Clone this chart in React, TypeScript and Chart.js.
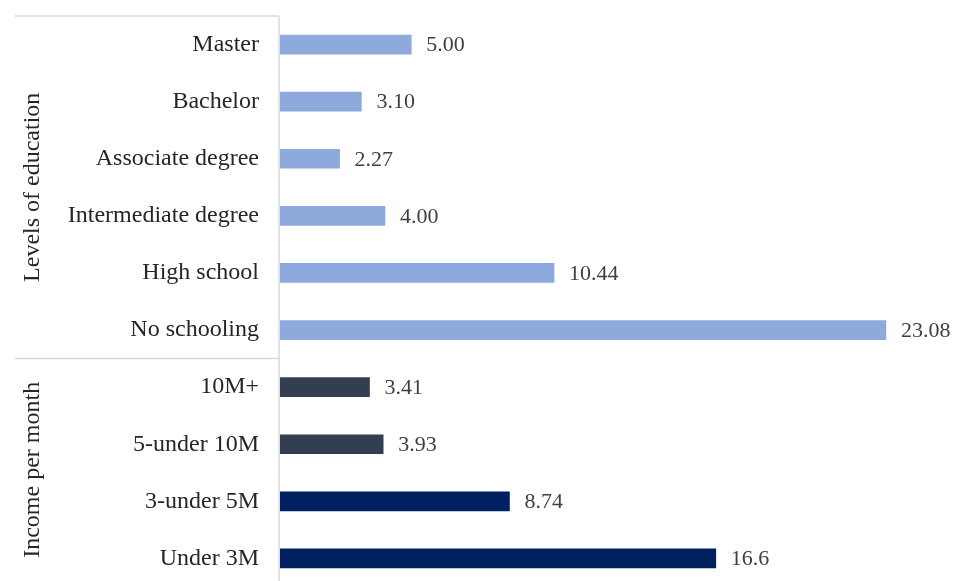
import React, { useEffect, useRef } from "react";
import { Chart, registerables } from "chart.js";

Chart.register(...registerables);

const categories = [
  "Master",
  "Bachelor",
  "Associate degree",
  "Intermediate degree",
  "High school",
  "No schooling",
  "10M+",
  "5-under 10M",
  "3-under 5M",
  "Under 3M",
];
const values = [5.0, 3.1, 2.27, 4.0, 10.44, 23.08, 3.41, 3.93, 8.74, 16.6];
const valueLabels = ["5.00", "3.10", "2.27", "4.00", "10.44", "23.08", "3.41", "3.93", "8.74", "16.6"];
const barColors = [
  "#8EA9DB", "#8EA9DB", "#8EA9DB", "#8EA9DB", "#8EA9DB", "#8EA9DB",
  "#333F50", "#333F50", "#002060", "#002060",
];
const groupTitles = ["Levels of education", "Income per month"];
const groupStarts = [0, 6];
const groupEnds = [5, 9];

const FONT = "'Liberation Serif', 'Times New Roman', serif";

const decorPlugin = {
  id: "decor",
  afterDatasetsDraw(chart: any) {
    const ctx = chart.ctx;
    const yScale = chart.scales.y;
    const area = chart.chartArea;
    const meta = chart.getDatasetMeta(0);
    ctx.save();
    // value labels
    ctx.font = `22px ${FONT}`;
    ctx.fillStyle = "#404040";
    ctx.textAlign = "left";
    ctx.textBaseline = "middle";
    meta.data.forEach((bar: any, i: number) => {
      ctx.fillText(valueLabels[i], bar.x + 15, bar.y + 1);
    });
    // axis line
    ctx.strokeStyle = "#d9d9d9";
    ctx.lineWidth = 1.5;
    ctx.beginPath();
    ctx.moveTo(area.left - 1, area.top);
    ctx.lineTo(area.left - 1, chart.height);
    ctx.stroke();
    // separators
    const step = yScale.getPixelForValue(1) - yScale.getPixelForValue(0);
    const seps = [area.top, yScale.getPixelForValue(groupEnds[0]) + step / 2];
    seps.forEach((y) => {
      ctx.beginPath();
      ctx.moveTo(15, y);
      ctx.lineTo(area.left - 1, y);
      ctx.stroke();
    });
    // group titles
    ctx.font = `24px ${FONT}`;
    ctx.fillStyle = "#262626";
    ctx.textAlign = "center";
    ctx.textBaseline = "middle";
    groupTitles.forEach((t, g) => {
      const y0 = yScale.getPixelForValue(groupStarts[g]) - step / 2;
      const y1 = Math.min(yScale.getPixelForValue(groupEnds[g]) + step / 2, 581);
      ctx.save();
      ctx.translate(33, (y0 + y1) / 2);
      ctx.rotate(-Math.PI / 2);
      ctx.fillText(t, 0, 0);
      ctx.restore();
    });
    ctx.restore();
  },
};

export default function App() {
  const ref = useRef<HTMLCanvasElement | null>(null);
  useEffect(() => {
    document.body.style.margin = "0";
    const canvas = ref.current!;
    const chart = new Chart(canvas, {
      type: "bar",
      data: {
        labels: categories,
        datasets: [
          {
            data: values,
            backgroundColor: barColors,
            barThickness: 19,
          },
        ],
      },
      options: {
        indexAxis: "y",
        animation: false,
        responsive: false,
        layout: { padding: { top: 16, bottom: 5, left: 0, right: 21.7 } },
        plugins: { legend: { display: false }, tooltip: { enabled: false } },
        scales: {
          x: { display: false, min: 0, max: 25 },
          y: {
            grid: { display: false, drawTicks: false },
            border: { display: false },
            ticks: {
              font: { family: FONT, size: 24 },
              color: "#262626",
              padding: 21,
            },
            afterFit: (scale: any) => {
              scale.width = 280;
              scale.paddingTop = 0;
              scale.paddingBottom = 0;
            },
          },
        },
      },
      plugins: [decorPlugin],
    });
    return () => chart.destroy();
  }, []);
  return (
    <div style={{ position: "fixed", left: 0, top: 0, width: 958, height: 581, overflow: "hidden", background: "#fff" }}>
      <canvas ref={ref} width={958} height={592} style={{ display: "block" }} />
    </div>
  );
}
